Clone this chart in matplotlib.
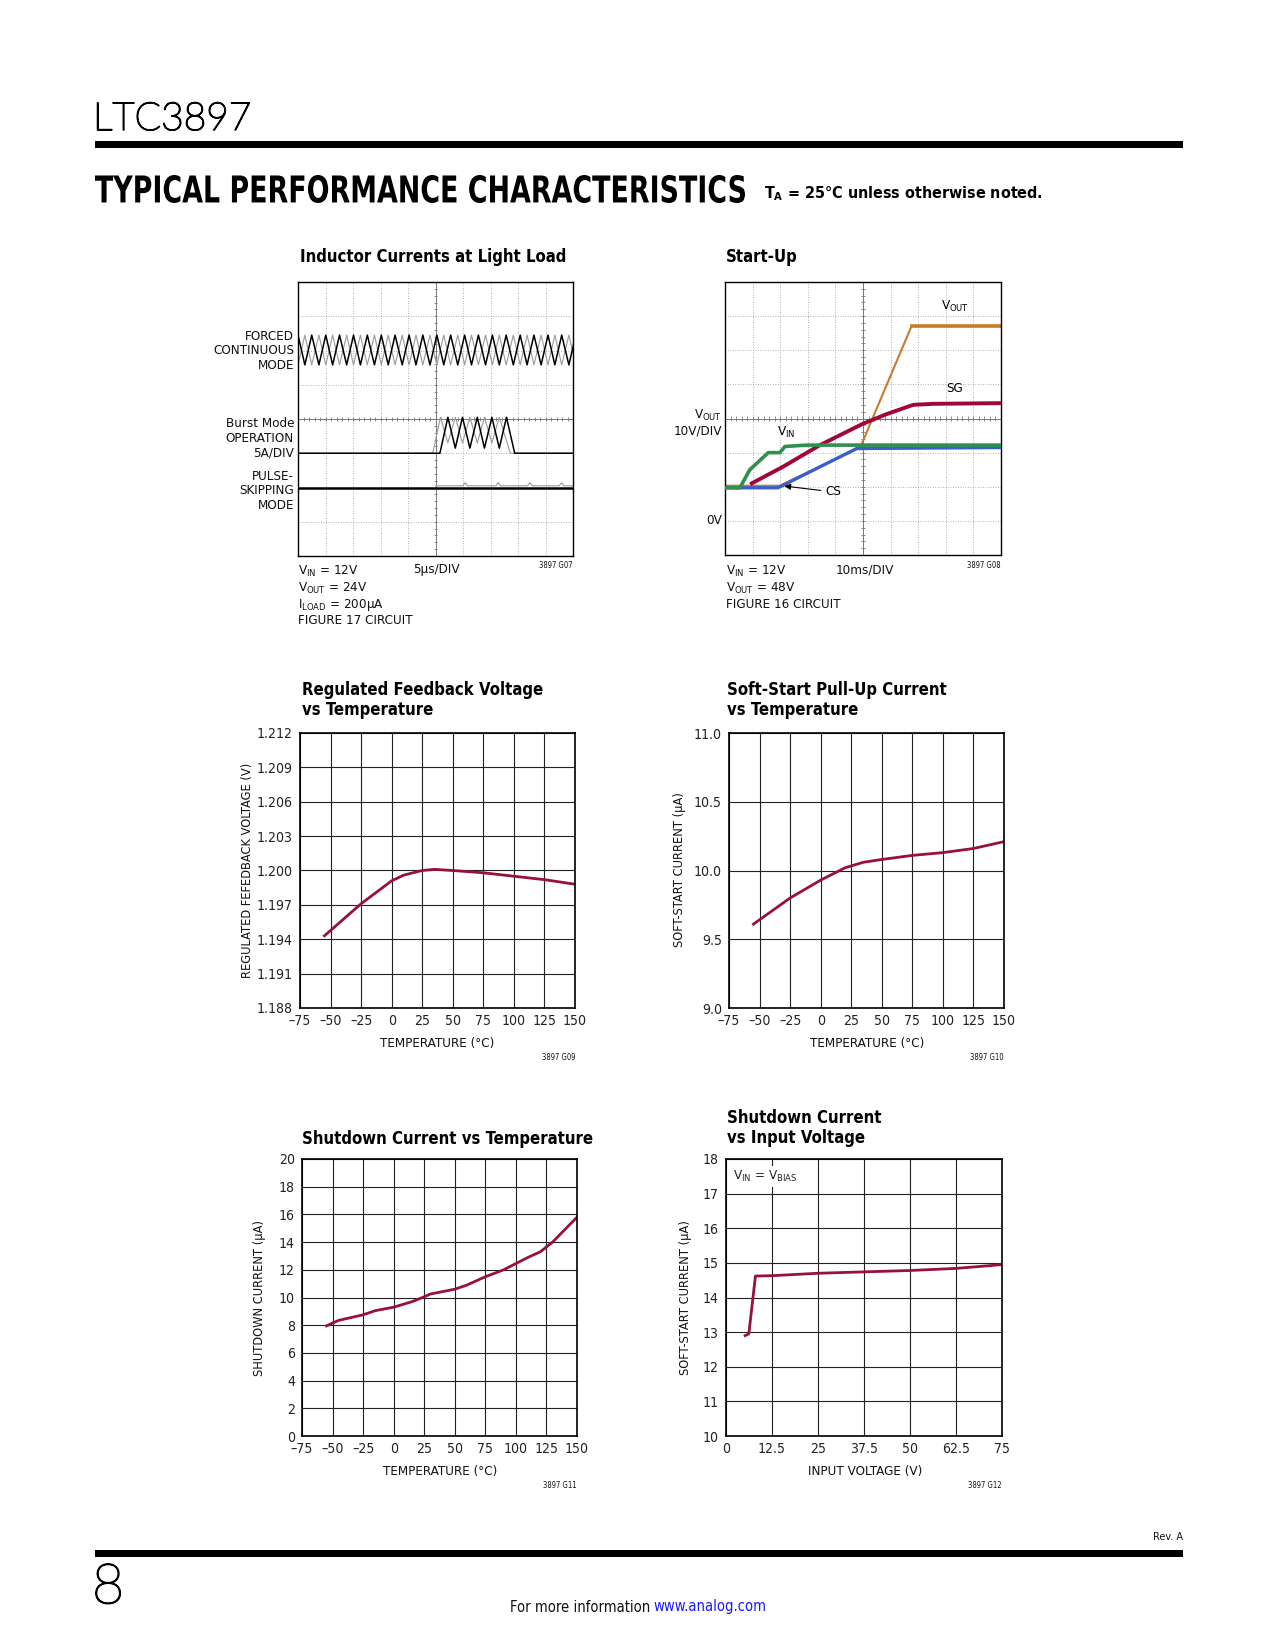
import numpy as np
import matplotlib
matplotlib.use("Agg")
import matplotlib.pyplot as plt
import matplotlib.font_manager as fm
import matplotlib.patheffects as pe
from matplotlib.patches import Rectangle, PathPatch
from matplotlib.textpath import TextPath
from matplotlib.font_manager import FontProperties
from matplotlib.transforms import Affine2D, IdentityTransform

# pick a narrow sans if one is installed, else an Arial-like one
ents = [(f.name, f.stretch) for f in fm.fontManager.ttflist]
choices = [('Liberation Sans Narrow', 'normal', 1.0),
           ('Roboto Condensed', 'normal', 1.0),
           ('Noto Sans Condensed', 'normal', 1.0),
           ('Noto Sans', 'condensed', 1.0),
           ('DejaVu Sans', 'condensed', 0.92),
           ('Open Sans Condensed', 'normal', 1.0),
           ('Liberation Sans', 'normal', 0.86)]
FAM, STR, FS = 'DejaVu Sans', 'normal', 0.8
for name, st, k in choices:
    if (name, st) in ents:
        FAM, STR, FS = name, st, k
        break

plt.rcParams['font.family'] = [FAM, 'DejaVu Sans']
plt.rcParams['font.stretch'] = STR

# ---- inductor currents at light load (scope divisions, x 0-10, y 0-8)
fcm_peak_t = [0.00, 0.50, 1.01, 1.51, 2.02, 2.52, 3.03, 3.53, 4.04, 4.54, 5.05,
              5.55, 6.06, 6.56, 7.07, 7.57, 8.08, 8.58, 9.09, 9.59, 10.10]
fcm_valley_t = [0.25, 0.76, 1.26, 1.77, 2.27, 2.78, 3.28, 3.79, 4.29, 4.80,
                5.30, 5.81, 6.31, 6.82, 7.32, 7.83, 8.33, 8.84, 9.34, 9.85]
fcm_hi, fcm_lo = 6.45, 5.58

burst_black_t = [0.0, 5.16, 5.45, 5.72, 5.98, 6.25, 6.52, 6.78, 7.05, 7.32, 7.58, 7.88, 10.0]
burst_black_y = [3.0, 3.0, 4.05, 3.15, 4.05, 3.15, 4.05, 3.15, 4.05, 3.15, 4.05, 3.0, 3.0]
burst_gray_t = [0.0, 4.90, 5.18, 5.45, 5.72, 5.98, 6.25, 6.52, 6.78, 7.05, 7.32, 7.72, 10.0]
burst_gray_y = [3.0, 3.0, 4.05, 3.3, 4.05, 3.3, 4.05, 3.3, 4.05, 3.3, 4.05, 3.0, 3.0]

ps_black_t = [0.0, 10.0]
ps_black_y = [2.0, 2.0]
ps_gray_t = [5.0, 6.0, 6.08, 6.16, 7.2, 7.28, 7.36, 8.35, 8.43, 8.51, 9.5, 9.58, 9.66, 10.0]
ps_gray_y = [2.05, 2.05, 2.14, 2.05, 2.05, 2.14, 2.05, 2.05, 2.14, 2.05, 2.05, 2.14, 2.05, 2.05]

# ---- start-up (scope divisions)
vin_t = [0.0, 0.54, 0.9, 1.57, 1.99, 2.17, 2.96, 10.0]
vin_y = [1.97, 1.97, 2.5, 3.0, 3.0, 3.18, 3.22, 3.22]
cs_t = [0.0, 1.92, 4.77, 10.0]
cs_y = [1.97, 1.97, 3.12, 3.15]
vout_t = [0.0, 1.98, 4.90, 6.76, 10.0]
vout_y = [2.03, 2.03, 3.15, 6.71, 6.71]
sg_t = [0.97, 2.11, 3.44, 4.98, 5.86, 6.82, 7.55, 10.0]
sg_y = [2.10, 2.59, 3.22, 3.84, 4.13, 4.40, 4.43, 4.45]

# ---- regulated feedback voltage vs temperature
fb_temp = [-55, -40, -25, -10, 0, 10, 25, 35, 50, 75, 100, 125, 150]
fb_volt = [1.1943, 1.1957, 1.1971, 1.1983, 1.1991, 1.1996, 1.2000, 1.2001,
           1.2000, 1.1998, 1.1995, 1.1992, 1.1988]

# ---- soft-start pull-up current vs temperature
ss_temp = [-55, -25, 0, 20, 35, 50, 75, 100, 125, 150]
ss_curr = [9.61, 9.80, 9.93, 10.02, 10.06, 10.08, 10.11, 10.13, 10.16, 10.21]

# ---- shutdown current vs temperature
sd_temp = [-55, -45, -25, -15, 0, 15, 25, 30, 50, 60, 75, 90, 100, 110, 120, 130, 140, 150]
sd_curr = [7.95, 8.35, 8.75, 9.05, 9.3, 9.7, 10.05, 10.25, 10.6, 10.9, 11.5, 12.0,
           12.45, 12.9, 13.3, 14.0, 14.9, 15.8]

# ---- shutdown current vs input voltage
vi_volt = [5.2, 6.2, 8.0, 12.5, 25, 37.5, 50, 62.5, 75]
vi_curr = [12.9, 12.95, 14.62, 14.63, 14.70, 14.74, 14.78, 14.84, 14.95]

temp_ticks = [-75, -50, -25, 0, 25, 50, 75, 100, 125, 150]
temp_labels = ['–75', '–50', '–25', '0', '25', '50', '75', '100', '125', '150']
fb_ticks = [1.188, 1.191, 1.194, 1.197, 1.200, 1.203, 1.206, 1.209, 1.212]
ss_ticks = [9.0, 9.5, 10.0, 10.5, 11.0]
sd_ticks = [0, 2, 4, 6, 8, 10, 12, 14, 16, 18, 20]
vi_ticks = [0, 12.5, 25, 37.5, 50, 62.5, 75]
vi_labels = ['0', '12.5', '25', '37.5', '50', '62.5', '75']
vc_ticks = [10, 11, 12, 13, 14, 15, 16, 17, 18]

RED = '#98103e'
TSZ = 13  # chart title size
W, H = 1275, 1650
fig = plt.figure(figsize=(W / 100, H / 100), dpi=100)


def box(x0, y0, x1, y1):
    return fig.add_axes([x0 / W, 1 - y1 / H, (x1 - x0) / W, (y1 - y0) / H])


def put(x, y, s, size=10.5, **kw):
    kw.setdefault('va', 'center')
    kw.setdefault('color', '#111111')
    fig.text(x / W, 1 - y / H, s, fontsize=size * FS, **kw)


def bar(x0, y0, x1, y1):
    fig.add_artist(Rectangle((x0 / W, 1 - y1 / H), (x1 - x0) / W, (y1 - y0) / H,
                             transform=fig.transFigure, color='black', lw=0))


def zigzag(peaks, valleys, hi, lo):
    pts = sorted([(t, hi) for t in peaks] + [(t, lo) for t in valleys])
    return [p[0] for p in pts], [p[1] for p in pts]


def scope(ax):
    ax.set_xlim(0, 10)
    ax.set_ylim(0, 8)
    ax.set_xticks([])
    ax.set_yticks([])
    for v in range(1, 10):
        if v != 5:
            ax.axvline(v, color='#999999', lw=0.6, ls=(0, (1, 2)), zorder=0)
    for v in range(1, 8):
        if v != 4:
            ax.axhline(v, color='#999999', lw=0.6, ls=(0, (1, 2)), zorder=0)
    ax.axvline(5, color='#777777', lw=0.7, zorder=0)
    ax.axhline(4, color='#777777', lw=0.7, zorder=0)
    ax.vlines(np.arange(0.2, 10, 0.2), 3.93, 4.07, color='#777777', lw=0.6, zorder=0)
    ax.hlines(np.arange(0.2, 8, 0.2), 4.93, 5.07, color='#777777', lw=0.6, zorder=0)
    for sp in ax.spines.values():
        sp.set_linewidth(1.0)


def curves(ax, xlim, ylim, xt, xtl, yt, ytl):
    ax.set_xlim(*xlim)
    ax.set_ylim(*ylim)
    ax.set_xticks(xt)
    ax.set_xticklabels(xtl)
    ax.set_yticks(yt)
    ax.set_yticklabels(ytl)
    ax.set_axisbelow(True)
    ax.grid(True, color='#222222', lw=0.8)
    ax.tick_params(length=0, labelsize=11 * FS, colors='#222222')
    ax.tick_params(axis='x', pad=4.5)
    ax.tick_params(axis='y', pad=5)
    for sp in ax.spines.values():
        sp.set_linewidth(1.2)


thick = [pe.withStroke(linewidth=1.1, foreground='black')]

# ---------------- page header
put(93, 119, 'LTC3897', 28 / FS, family=['Lato', 'DejaVu Sans'], weight='light',
    stretch='normal', color='black', path_effects=thick)
bar(95, 141, 1183, 148)

fp = FontProperties(family=[FAM, 'DejaVu Sans'], weight='bold', stretch=STR)
tp = TextPath((0, 0), 'TYPICAL PERFORMANCE CHARACTERISTICS', size=100, prop=fp)
ext = tp.get_extents()
sx = 650 / ext.width
sy = 28 / ext.height
tp = tp.transformed(Affine2D().translate(-ext.x0, -ext.y0).scale(sx, sy).translate(95, H - 203))
fig.add_artist(PathPatch(tp, transform=IdentityTransform(), color='black', lw=0))
put(764, 194, r'T$_{\mathregular{A}}$ = 25°C unless otherwise noted.', 12.5, weight='bold',
    color='black')

# ---------------- inductor currents at light load
ax1 = box(298, 282, 573, 556)
scope(ax1)
gt, gy = zigzag(fcm_valley_t, fcm_peak_t, fcm_hi, fcm_lo)
ax1.plot(gt, gy, color='#9a9a9a', lw=0.8)
bt, by = zigzag(fcm_peak_t, fcm_valley_t, fcm_hi, fcm_lo)
ax1.plot(bt, by, color='black', lw=1.1)
ax1.plot(burst_gray_t, burst_gray_y, color='#9a9a9a', lw=0.8)
ax1.plot(burst_black_t, burst_black_y, color='black', lw=1.1)
ax1.plot(ps_black_t, ps_black_y, color='black', lw=1.8)
ax1.plot(ps_gray_t, ps_gray_y, color='#9a9a9a', lw=0.8)

put(300, 257, 'Inductor Currents at Light Load', TSZ, weight='bold', color='black')
put(294, 351, 'FORCED\nCONTINUOUS\nMODE', 10.5, ha='right', linespacing=1.15)
put(294, 438, 'Burst Mode\nOPERATION\n5A/DIV', 10.5, ha='right', linespacing=1.15)
put(294, 491, 'PULSE-\nSKIPPING\nMODE', 10.5, ha='right', linespacing=1.15)
put(298, 571, r'V$_{\mathregular{IN}}$ = 12V')
put(298, 588, r'V$_{\mathregular{OUT}}$ = 24V')
put(298, 605, r'I$_{\mathregular{LOAD}}$ = 200µA')
put(298, 621, 'FIGURE 17 CIRCUIT')
put(413, 570, '5µs/DIV')
put(573, 566, '3897 G07', 6, ha='right')

# ---------------- start-up
ax2 = box(725, 282, 1001, 555)
scope(ax2)
ax2.plot(vout_t, vout_y, color='#c97b2c', lw=1.5, zorder=2)
ax2.plot(vout_t[-2:], vout_y[-2:], color='#c97b2c', lw=2.6, zorder=2)
ax2.plot(cs_t, cs_y, color='#3b5fc8', lw=2.4, zorder=3)
ax2.plot(sg_t, sg_y, color='#a0063a', lw=2.8, zorder=4)
ax2.plot(vin_t, vin_y, color='#2f8f4e', lw=2.6, zorder=5)
ax2.text(8.33, 7.27, r'V$_{\mathregular{OUT}}$', fontsize=10.5 * FS, ha='center', va='center')
ax2.text(8.33, 4.87, 'SG', fontsize=10.5 * FS, ha='center', va='center')
ax2.text(2.2, 3.6, r'V$_{\mathregular{IN}}$', fontsize=10.5 * FS, ha='center', va='center')
ax2.annotate('CS', xy=(2.15, 2.02), xytext=(3.62, 1.85), fontsize=10.5 * FS, va='center',
             arrowprops=dict(arrowstyle='-|>', color='black', lw=0.8, mutation_scale=9,
                             shrinkA=1, shrinkB=0))

put(726, 257, 'Start-Up', TSZ, weight='bold', color='black')
put(722, 415, r'V$_{\mathregular{OUT}}$', ha='right')
put(722, 431, '10V/DIV', ha='right')
put(722, 520, '0V', ha='right')
put(726, 571, r'V$_{\mathregular{IN}}$ = 12V')
put(726, 588, r'V$_{\mathregular{OUT}}$ = 48V')
put(726, 604, 'FIGURE 16 CIRCUIT')
put(836, 570, '10ms/DIV')
put(1001, 566, '3897 G08', 6, ha='right')

# ---------------- regulated feedback voltage
ax3 = box(300, 733, 575, 1008)
curves(ax3, (-75, 150), (1.188, 1.212), temp_ticks, temp_labels,
       fb_ticks, [f'{v:.3f}' for v in fb_ticks])
ax3.plot(fb_temp, fb_volt, color=RED, lw=2)
put(302, 700, 'Regulated Feedback Voltage\nvs Temperature', TSZ, weight='bold', color='black',
    linespacing=1.2)
put(247, 870, 'REGULATED FEFEDBACK VOLTAGE (V)', 10, rotation=90, ha='center')
put(437, 1043, 'TEMPERATURE (°C)', 10.5, ha='center')
put(575, 1057, '3897 G09', 6, ha='right')

# ---------------- soft-start pull-up current
ax4 = box(729, 733, 1004, 1008)
curves(ax4, (-75, 150), (9.0, 11.0), temp_ticks, temp_labels,
       ss_ticks, [f'{v:.1f}' for v in ss_ticks])
ax4.plot(ss_temp, ss_curr, color=RED, lw=2)
put(727, 700, 'Soft-Start Pull-Up Current\nvs Temperature', TSZ, weight='bold', color='black',
    linespacing=1.2)
put(679, 870, 'SOFT-START CURRENT (µA)', 10, rotation=90, ha='center')
put(867, 1043, 'TEMPERATURE (°C)', 10.5, ha='center')
put(1004, 1057, '3897 G10', 6, ha='right')

# ---------------- shutdown current vs temperature
ax5 = box(302, 1159, 577, 1436)
curves(ax5, (-75, 150), (0, 20), temp_ticks, temp_labels,
       sd_ticks, [str(v) for v in sd_ticks])
ax5.plot(sd_temp, sd_curr, color=RED, lw=2)
put(302, 1139, 'Shutdown Current vs Temperature', TSZ, weight='bold', color='black')
put(259, 1298, 'SHUTDOWN CURRENT (µA)', 10, rotation=90, ha='center')
put(440, 1471, 'TEMPERATURE (°C)', 10.5, ha='center')
put(577, 1485, '3897 G11', 6, ha='right')

# ---------------- shutdown current vs input voltage
ax6 = box(726, 1159, 1002, 1436)
curves(ax6, (0, 75), (10, 18), vi_ticks, vi_labels,
       vc_ticks, [str(v) for v in vc_ticks])
ax6.plot(vi_volt, vi_curr, color=RED, lw=2)
ax6.text(2.0, 17.5, r'V$_{\mathregular{IN}}$ = V$_{\mathregular{BIAS}}$', fontsize=10.5 * FS,
         va='center', color='#222222',
         bbox=dict(facecolor='white', edgecolor='none', pad=2))
put(727, 1128, 'Shutdown Current\nvs Input Voltage', TSZ, weight='bold', color='black',
    linespacing=1.2)
put(685, 1298, 'SOFT-START CURRENT (µA)', 10, rotation=90, ha='center')
put(865, 1471, 'INPUT VOLTAGE (V)', 10.5, ha='center')
put(1002, 1485, '3897 G12', 6, ha='right')

# ---------------- footer
put(1183, 1537, 'Rev. A', 8.5, ha='right')
bar(95, 1550, 1183, 1557)
put(92, 1588, '8', 40 / FS, family=['Lato', 'DejaVu Sans'], weight='light',
    stretch='normal', color='black', path_effects=thick)
put(650, 1607, 'For more information', 11.5, ha='right')
put(653, 1607, 'www.analog.com', 11.5, ha='left', color='#1a1aff')

fig.savefig('out.png', dpi=100)
